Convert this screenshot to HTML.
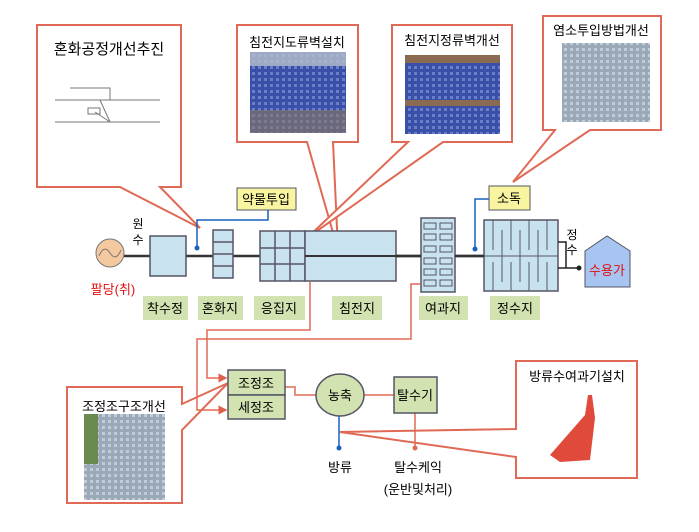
<!DOCTYPE html>
<html><head><meta charset="utf-8"><style>
html,body{margin:0;padding:0;background:#fff}
svg{display:block}
text{font-family:"Liberation Sans","Noto Sans CJK KR","NanumGothic",sans-serif}
</style></head><body>
<svg width="699" height="532" viewBox="0 0 699 532" xmlns="http://www.w3.org/2000/svg">
<defs>
<pattern id="p1" width="6" height="6" patternUnits="userSpaceOnUse"><rect width="6" height="6" fill="#3a4fa8"/><rect width="3" height="3" fill="#6a7fc8"/></pattern>
<pattern id="p2" width="6" height="6" patternUnits="userSpaceOnUse"><rect width="6" height="6" fill="#9aa8b8"/><rect width="3" height="3" fill="#c0ccd8"/></pattern>
<marker id="ar" markerWidth="6" markerHeight="6" refX="5" refY="3" orient="auto"><path d="M0,0 L6,3 L0,6z" fill="#e06050"/></marker>
</defs>
<g fill="#fff" stroke="#e06a55" stroke-width="2">
<!-- callout 1 -->
<path d="M37,25 H181 V187 H160 L200,228 L120,187 H37 Z"/>
<!-- callout 2 -->
<path d="M237,25 H358 V142 H333 L338,250 L307,142 H237 Z"/>
<!-- callout 3 -->
<path d="M392,25 H512 V142 H443 L307,238 L408,142 H392 Z"/>
<!-- callout 4 -->
<path d="M543,16 H661 V130 H590 L513,182 L555,130 H543 Z"/>
<!-- callout 조정조 -->
<path d="M67,387 H182 V404 L228,383 L182,430 V503 H67 Z"/>
<!-- callout 방류수 -->
<path d="M516,361 H637 V478 H516 V457 L340,432 L516,429 Z"/>
</g>
<text x="109" y="54" font-size="15" text-anchor="middle">혼화공정개선추진</text>
<g stroke="#777" fill="none" stroke-width="1"><path d="M55,100 H160 M55,122 H160 M70,88 H110 V100 M95,112 L110,122 M100,100 L110,122"/><rect x="88" y="108" width="12" height="6"/></g>
<text x="297" y="47" font-size="13" text-anchor="middle">침전지도류벽설치</text>
<rect x="250" y="52" width="96" height="81" fill="url(#p1)"/>
<rect x="250" y="52" width="96" height="14" fill="#b8c0cc" opacity=".8"/>
<rect x="250" y="110" width="96" height="23" fill="#8a7a60" opacity=".6"/>
<text x="452" y="45" font-size="13" text-anchor="middle">침전지정류벽개선</text>
<rect x="405" y="55" width="95" height="79" fill="url(#p1)"/>
<rect x="405" y="55" width="95" height="8" fill="#8a6a50"/><rect x="405" y="100" width="95" height="6" fill="#8a6a50"/>
<text x="601" y="35" font-size="13" text-anchor="middle">염소투입방법개선</text>
<rect x="562" y="43" width="88" height="79" fill="url(#p2)"/>
<text x="124" y="411" font-size="13" text-anchor="middle">조정조구조개선</text>
<rect x="84" y="414" width="81" height="86" fill="url(#p2)"/>
<rect x="84" y="414" width="14" height="50" fill="#6a8a50"/>
<text x="577" y="381" font-size="13" text-anchor="middle">방류수여과기설치</text>
<path d="M550,455 L585,415 L588,395 L592,395 L595,418 L590,460 L560,462 Z" fill="#e04a3a"/>
<!-- main line -->
<line x1="124" y1="256" x2="484" y2="256" stroke="#333" stroke-width="2.5"/>
<circle cx="110" cy="253" r="14" fill="#f5c9a0" stroke="#777"/>
<path d="M99,256 Q104,244 110,253 T121,250" fill="none" stroke="#777"/>
<text x="138" y="228" font-size="12" text-anchor="middle">원</text>
<text x="138" y="244" font-size="12" text-anchor="middle">수</text>
<text x="113" y="294" font-size="13" fill="#e01010" text-anchor="middle">팔당(취)</text>
<g fill="#c8e2f0" stroke="#556" stroke-width="1.5">
<rect x="150" y="236" width="36" height="40"/>
<rect x="213" y="230" width="20" height="48"/>
<path d="M213,242 H233 M213,254 H233 M213,266 H233" fill="none"/>
<rect x="260" y="231" width="45" height="50"/>
<path d="M275,231 V281 M290,231 V281 M260,248 H305 M260,264 H305" fill="none"/>
<rect x="305" y="231" width="91" height="50"/>
<rect x="421" y="218" width="34" height="74"/>
<rect x="484" y="220" width="74" height="71"/>
</g>
<line x1="305" y1="256" x2="396" y2="256" stroke="#333" stroke-width="2"/>
<line x1="396" y1="256" x2="421" y2="256" stroke="#333" stroke-width="2.5"/>
<line x1="455" y1="256" x2="484" y2="256" stroke="#333" stroke-width="2.5"/>
<g fill="#c8e2f0" stroke="#556" stroke-width="1">
<rect x="424" y="223" width="12" height="6"/><rect x="440" y="223" width="12" height="6"/>
<rect x="424" y="234" width="12" height="6"/><rect x="440" y="234" width="12" height="6"/>
<rect x="424" y="246" width="12" height="6"/><rect x="440" y="246" width="12" height="6"/>
<rect x="424" y="258" width="12" height="6"/><rect x="440" y="258" width="12" height="6"/>
<rect x="424" y="269" width="12" height="6"/><rect x="440" y="269" width="12" height="6"/>
<rect x="424" y="280" width="12" height="6"/><rect x="440" y="280" width="12" height="6"/>
</g>
<g stroke="#556" stroke-width="1" fill="none">
<path d="M493,220 V250 M502,230 V256 M511,220 V250 M520,230 V256 M529,220 V250 M538,230 V256 M547,220 V250 M484,256 H558 M493,291 V262 M502,256 V282 M511,291 V262 M520,256 V282 M529,291 V262 M538,256 V282 M547,291 V262"/>
</g>
<path d="M558,242 H566 V268 H558 M566,268 H578" fill="none" stroke="#222" stroke-width="1.5"/>
<circle cx="579" cy="268" r="2.5" fill="#222"/>
<text x="572" y="239" font-size="12" text-anchor="middle">정</text>
<text x="572" y="254" font-size="12" text-anchor="middle">수</text>
<path d="M585,251 L607,236 L630,251 V287 H585 Z" fill="#a8c4f0" stroke="#556"/>
<text x="607" y="275" font-size="13" fill="#e01010" text-anchor="middle">수용가</text>
<!-- yellow boxes -->
<rect x="237" y="188" width="59" height="22" fill="#f8f4a0" stroke="#556"/>
<text x="266" y="204" font-size="13" text-anchor="middle">약물투입</text>
<path d="M268,210 V220 H197 V247" fill="none" stroke="#1a60c0" stroke-width="1.5"/>
<circle cx="197" cy="248" r="2.5" fill="#1a60c0"/>
<rect x="489" y="186" width="41" height="24" fill="#f8f4a0" stroke="#556"/>
<text x="509" y="203" font-size="13" text-anchor="middle">소독</text>
<path d="M489,199 H475 V248" fill="none" stroke="#1a60c0" stroke-width="1.5"/>
<circle cx="475" cy="249" r="2.5" fill="#1a60c0"/>
<!-- green labels -->
<g fill="#d2e2b0">
<rect x="143" y="296" width="45" height="24"/><rect x="198" y="296" width="45" height="24"/>
<rect x="254" y="296" width="51" height="24"/><rect x="332" y="296" width="50" height="24"/>
<rect x="419" y="296" width="49" height="24"/><rect x="490" y="296" width="50" height="24"/>
</g>
<g font-size="13" text-anchor="middle">
<text x="165" y="313">착수정</text><text x="220" y="313">혼화지</text><text x="279" y="313">응집지</text>
<text x="357" y="313">침전지</text><text x="443" y="313">여과지</text><text x="515" y="313">정수지</text>
</g>
<!-- bottom red lines -->
<g fill="none" stroke="#e06a55" stroke-width="1.5">
<path d="M310,282 V330 H207 V378 H226" marker-end="url(#ar)"/>
<path d="M420,284 H411 V339 H197 V410 H226" marker-end="url(#ar)"/>
<path d="M285,387 H295 V395 H316"/>
<path d="M364,395 H394"/>
<path d="M415,413 V447"/>
</g>
<circle cx="415" cy="448" r="2.5" fill="#e06a55"/>
<rect x="228" y="370" width="57" height="25" fill="#d2e2b0" stroke="#556" stroke-width="1.5"/>
<rect x="228" y="395" width="57" height="24" fill="#d2e2b0" stroke="#556" stroke-width="1.5"/>
<text x="256" y="388" font-size="13" text-anchor="middle">조정조</text>
<text x="256" y="412" font-size="13" text-anchor="middle">세정조</text>
<ellipse cx="340" cy="395" rx="24" ry="21" fill="#d2e2b0" stroke="#556" stroke-width="1.5"/>
<text x="340" y="400" font-size="13" text-anchor="middle">농축</text>
<rect x="394" y="377" width="43" height="36" fill="#d2e2b0" stroke="#556" stroke-width="1.5"/>
<text x="415" y="400" font-size="13" text-anchor="middle">탈수기</text>
<path d="M339,416 V447" stroke="#1a60c0" stroke-width="1.5"/>
<circle cx="339" cy="448" r="2.5" fill="#1a60c0"/>
<text x="340" y="472" font-size="13" text-anchor="middle">방류</text>
<text x="418" y="472" font-size="13" text-anchor="middle">탈수케익</text>
<text x="418" y="494" font-size="13" text-anchor="middle">(운반및처리)</text>
</svg>
</body></html>
